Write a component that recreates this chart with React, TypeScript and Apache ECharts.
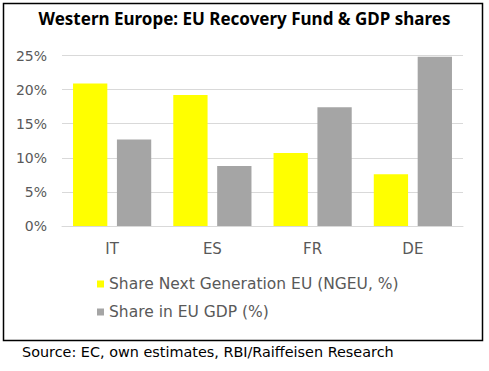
import React, { useEffect, useRef } from "react";
import * as echarts from "echarts";

const categories = ["IT", "ES", "FR", "DE"];
const ngeuShare = [20.9, 19.2, 10.7, 7.6];
const gdpShare = [12.7, 8.8, 17.4, 24.8];
const seriesNames = ["Share Next Generation EU (NGEU, %)", "Share in EU GDP (%)"];
const titleText = "Western Europe: EU Recovery Fund & GDP shares";
const sourceText = "Source: EC, own estimates, RBI/Raiffeisen Research";

const FONT = "'DejaVu Sans', sans-serif";

export default function App() {
  const ref = useRef<HTMLDivElement>(null);
  useEffect(() => {
    document.body.style.margin = "0";
    const chart = echarts.init(ref.current!, null, { renderer: "svg" });
    chart.setOption({
      animation: false,
      backgroundColor: "#ffffff",
      title: {
        text: titleText,
        left: "center",
        top: 5,
        textStyle: { fontFamily: "'Noto Sans', sans-serif", fontWeight: "bold", fontSize: 17, color: "#000" },
      },
      grid: { left: 62, right: 26, top: 55.5, bottom: 145, containLabel: false },
      legend: {
        orient: "vertical",
        left: 92,
        top: 271,
        itemWidth: 7,
        itemHeight: 7,
        itemGap: 12,
        icon: "rect",
        textStyle: { fontFamily: FONT, fontSize: 15.5, color: "#595959", padding: [0, 0, 0, 0] },
        data: seriesNames,
      },
      xAxis: {
        type: "category",
        data: categories,
        axisLine: { lineStyle: { color: "#d9d9d9", width: 1 } },
        axisTick: { show: false },
        axisLabel: { fontFamily: FONT, fontSize: 15, color: "#595959", margin: 15 },
      },
      yAxis: {
        type: "value",
        min: 0,
        max: 25,
        interval: 5,
        axisLabel: { formatter: "{value}%", fontFamily: FONT, fontSize: 14, color: "#595959", margin: 15 },
        splitLine: { lineStyle: { color: "#d9d9d9", width: 1 } },
        axisLine: { show: false },
        axisTick: { show: false },
      },
      series: [
        {
          name: seriesNames[0],
          type: "bar",
          data: ngeuShare,
          itemStyle: { color: "#ffff00" },
          barGap: "28%",
          barCategoryGap: "22%",
        },
        {
          name: seriesNames[1],
          type: "bar",
          data: gdpShare,
          itemStyle: { color: "#a5a5a5" },
        },
      ],
      graphic: [
        {
          type: "rect",
          shape: { x: 3.5, y: 3.5, width: 479, height: 337 },
          style: { fill: "none", stroke: "#000", lineWidth: 1.5 },
          silent: true,
        },
        {
          type: "text",
          left: 22,
          top: 345,
          style: { text: sourceText, fontFamily: FONT, fontSize: 14.4, fill: "#000" },
        },
      ],
    });
    return () => chart.dispose();
  }, []);
  return <div ref={ref} style={{ width: 489, height: 371 }} />;
}
